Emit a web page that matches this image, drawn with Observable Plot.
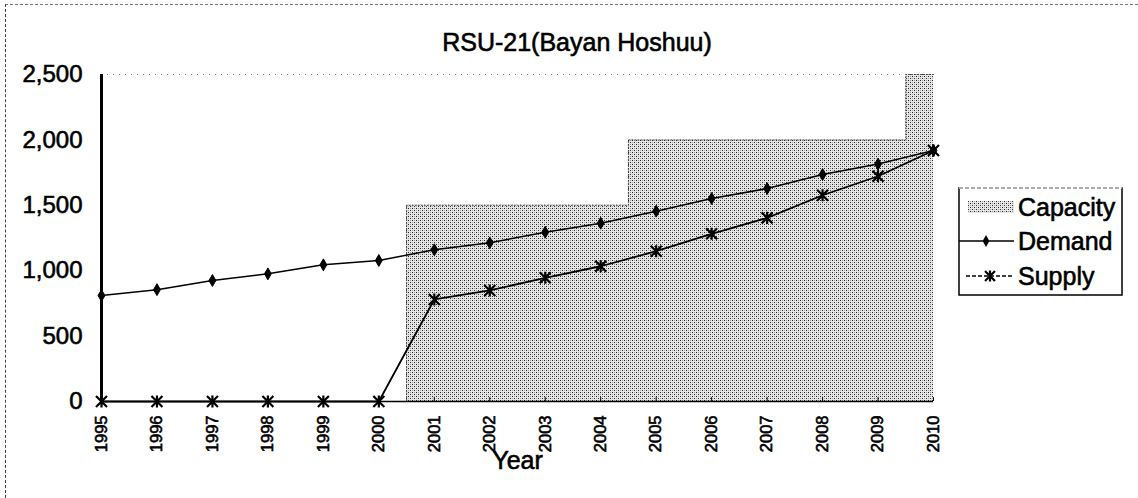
<!DOCTYPE html>
<html>
<head>
<meta charset="utf-8">
<script src="https://cdn.jsdelivr.net/npm/d3@7"></script>
<script src="https://cdn.jsdelivr.net/npm/@observablehq/plot@0.6"></script>
<style>
  html, body { margin: 0; padding: 0; background: #fff; }
  #wrap { position: relative; width: 1138px; height: 498px; overflow: hidden; font-family: "Liberation Sans", Arial, sans-serif; color: #000; }
  #title { position: absolute; left: 377px; width: 400px; top: 28px; text-align: center; font-size: 25px; -webkit-text-stroke: 0.6px #000; }
  #chart { position: absolute; left: 0; top: 0; }
  #legend { position: absolute; left: 958px; top: 187px; }
  #bTop { position: absolute; left: 5px; top: 4px; width: 1133px; height: 0; border-top: 1.5px dashed #777; }
  #bLeft { position: absolute; left: 5px; top: 4px; width: 0; height: 494px; border-left: 1.5px dashed #444; }
  #chart svg text { stroke: #000; stroke-width: 0.6px; }
</style>
</head>
<body>
<div id="wrap">
  <div id="bTop"></div>
  <div id="bLeft"></div>
  <div id="chart"></div>
  <div id="title">RSU-21(Bayan Hoshuu)</div>
  <div id="legend"></div>
</div>
<script>
const years    = [1995, 1996, 1997, 1998, 1999, 2000, 2001, 2002, 2003, 2004, 2005, 2006, 2007, 2008, 2009, 2010];
const capacity = [0, 0, 0, 0, 0, 0, 1500, 1500, 1500, 1500, 2000, 2000, 2000, 2000, 2000, 2500];
const demand   = [810, 855, 925, 976, 1045, 1078, 1160, 1213, 1294, 1363, 1455, 1552, 1628, 1735, 1815, 1919];
const supply   = [0, 0, 0, 0, 0, 0, 780, 849, 946, 1034, 1149, 1282, 1404, 1577, 1722, 1919];
const yTicks   = [0, 500, 1000, 1500, 2000, 2500];
const seriesNames = ["Capacity", "Demand", "Supply"];
const titleText = "RSU-21(Bayan Hoshuu)";
const xLabel = "Year";

const rows = years.map((y, i) => ({year: y, capacity: capacity[i], demand: demand[i], supply: supply[i]}));

const star = {
  draw(ctx, size) {
    const r = Math.sqrt(size / Math.PI);
    ctx.moveTo(-r, -r); ctx.lineTo(r, r);
    ctx.moveTo(-r, r); ctx.lineTo(r, -r);
    ctx.moveTo(0, -r * 1.1); ctx.lineTo(0, r * 1.1);
  }
};

const chart = Plot.plot({
  width: 1138,
  height: 498,
  marginLeft: 101,
  marginRight: 205,
  marginTop: 74,
  marginBottom: 97,
  style: {fontFamily: "'Liberation Sans', Arial, sans-serif", background: "transparent", color: "#000"},
  x: {type: "linear", domain: [1995, 2010], axis: null},
  y: {domain: [0, 2500]},
  marks: [
    Plot.ruleY([2500], {stroke: "#777", strokeDasharray: "1,5"}),
    Plot.areaY(rows, {x: "year", y: "capacity", curve: "step", fill: "url(#stip)"}),
    Plot.lineY(rows, {x: "year", y: "capacity", curve: "step", stroke: "#444", strokeDasharray: "1,2", strokeWidth: 1}),
    Plot.ruleX([1995], {y1: 0, y2: 2500, stroke: "#000", strokeWidth: 3}),
    Plot.ruleY([0], {stroke: "#000", strokeWidth: 1.5}),
    Plot.ruleX(years, {x: d => d, y1: 0, y2: 30, stroke: "#000", strokeWidth: 1}),
    Plot.lineY(rows, {x: "year", y: "demand", stroke: "#000", strokeWidth: 1.5}),
    Plot.dot(rows, {x: "year", y: "demand", symbol: "diamond", r: 3.6, fill: "#000", stroke: "#000", strokeWidth: 1}),
    Plot.lineY(rows, {x: "year", y: "supply", stroke: "#000", strokeWidth: 1.8}),
    Plot.dot(rows, {x: "year", y: "supply", symbol: star, r: 5.5, fill: "none", stroke: "#000", strokeWidth: 2.2}),
    Plot.axisY({ticks: yTicks, tickFormat: d3.format(","), tickSize: 0, tickPadding: 19, fontSize: 24, label: null}),
    Plot.text(years, {x: d => d, text: d => String(d), frameAnchor: "bottom", dy: 14, rotate: -90, textAnchor: "end", lineAnchor: "middle", fontSize: 16.5, fill: "#000"}),
    Plot.text([xLabel], {frameAnchor: "bottom", dy: 67, fontSize: 25, fill: "#000"})
  ]
});

// stipple pattern for capacity
const defs = d3.select(chart).insert("defs", ":first-child");
function addPattern(sel, id) {
  const p = sel.append("pattern").attr("id", id).attr("patternUnits", "userSpaceOnUse").attr("width", 4).attr("height", 4);
  p.append("rect").attr("width", 4).attr("height", 4).attr("fill", "#e6e6e6");
  p.append("rect").attr("x", 0).attr("y", 0).attr("width", 1).attr("height", 1).attr("fill", "#222");
  p.append("rect").attr("x", 2).attr("y", 2).attr("width", 1).attr("height", 1).attr("fill", "#333");
  p.append("rect").attr("x", 2).attr("y", 0).attr("width", 1).attr("height", 1).attr("fill", "#999");
  p.append("rect").attr("x", 0).attr("y", 2).attr("width", 1).attr("height", 1).attr("fill", "#aaa");
}
addPattern(defs, "stip");
document.getElementById("chart").appendChild(chart);
document.getElementById("title").textContent = titleText;

// legend
const lg = d3.select("#legend").append("svg").attr("width", 166).attr("height", 110)
  .style("font-family", "'Liberation Sans', Arial, sans-serif");
addPattern(lg.append("defs"), "stipL");
lg.append("rect").attr("x", 1).attr("y", 1).attr("width", 163).attr("height", 107)
  .attr("fill", "#fff").attr("stroke", "#000").attr("stroke-width", 1.5);
lg.append("line").attr("x1", 1).attr("x2", 164).attr("y1", 1).attr("y2", 1).attr("stroke", "#fff").attr("stroke-width", 2);
lg.append("line").attr("x1", 1).attr("x2", 164).attr("y1", 1).attr("y2", 1).attr("stroke", "#555").attr("stroke-dasharray", "4,2");
const rowsY = [20, 54, 89];
lg.append("rect").attr("x", 10).attr("y", rowsY[0] - 6).attr("width", 46).attr("height", 12).attr("fill", "url(#stipL)");
lg.append("line").attr("x1", 1).attr("x2", 56).attr("y1", rowsY[1]).attr("y2", rowsY[1]).attr("stroke", "#000").attr("stroke-width", 1.5);
lg.append("path").attr("d", d3.symbol(d3.symbolDiamond, 40)()).attr("transform", `translate(28,${rowsY[1]})`).attr("fill", "#000");
lg.append("line").attr("x1", 8).attr("x2", 56).attr("y1", rowsY[2]).attr("y2", rowsY[2]).attr("stroke", "#000").attr("stroke-width", 1.5).attr("stroke-dasharray", "4,2");
lg.append("path").attr("d", d3.symbol(star, Math.PI * 25)()).attr("transform", `translate(32,${rowsY[2]})`).attr("fill", "none").attr("stroke", "#000").attr("stroke-width", 2.2);
seriesNames.forEach((n, i) => {
  lg.append("text").attr("x", 60).attr("y", rowsY[i]).attr("dy", "0.35em").attr("font-size", 25)
    .attr("fill", "#000").attr("stroke", "#000").attr("stroke-width", 0.6).text(n);
});
</script>
</body>
</html>
